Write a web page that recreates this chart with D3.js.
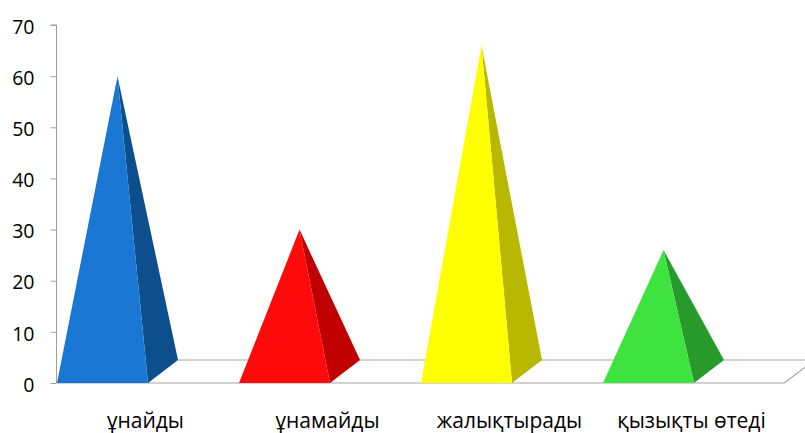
<!DOCTYPE html>
<html><head><meta charset="utf-8">
<script src="https://cdn.jsdelivr.net/npm/d3@7"></script>
<style>html,body{margin:0;padding:0;background:#fff;overflow:hidden}</style>
</head><body>
<svg id="c" width="805" height="433"></svg>
<script>
const categories = ["ұнайды", "ұнамайды", "жалықтырады", "қызықты өтеді"];
const values = [60, 30, 66, 26];
const frontColors = ["#1976D3", "#FF0A0A", "#FFFF00", "#3FE33F"];
const sideColors = ["#0D4F8C", "#C00000", "#B8B800", "#279A2B"];
const yTicks = [0, 10, 20, 30, 40, 50, 60, 70];

(function () {
const svg = d3.select("#c");
const mLeft = 56.5, mRight = 784.5, mTop = 25, mBottom = 383;
const depthX = 30, depthY = -23;

const x = d3.scaleBand().domain(categories).range([mLeft, mRight]).padding(0);
const y = d3.scaleLinear().domain([0, 70]).range([mBottom, mTop]);

// floor
const floor = svg.append("g").attr("stroke", "#A6A6A6").attr("stroke-width", 1.2).attr("fill", "none");
floor.append("path").attr("d", d3.line()([[mLeft, y(0)], [mRight, y(0)], [mRight + depthX, y(0) + depthY]]));
floor.append("path").attr("d", d3.line()([[mLeft + depthX, y(0) + depthY], [mRight + depthX + 20, y(0) + depthY]]));

// pyramids
const bw = x.bandwidth();
const g = svg.append("g");
categories.forEach((c, i) => {
  const L = x(c) + 0.5;
  const W = bw / 2;
  const R = L + W;
  const ax = L + W / 2 + depthX / 2;
  const ay = y(values[i]);
  g.append("path")
    .attr("d", d3.line()([[R, y(0)], [R + depthX, y(0) + depthY], [ax, ay]]) + "Z")
    .attr("fill", sideColors[i]);
  g.append("path")
    .attr("d", d3.line()([[L, y(0)], [R, y(0)], [ax, ay]]) + "Z")
    .attr("fill", frontColors[i]);
});

// y axis
const yAxis = svg.append("g").attr("transform", `translate(${mLeft},0)`)
  .call(d3.axisLeft(y).tickValues(yTicks).tickSize(6).tickPadding(16).tickFormat(d3.format("d")));
yAxis.selectAll("path.domain").attr("stroke", "#A0A0A0").attr("d", `M-6,${mTop}H0V${mBottom}`);
yAxis.selectAll(".tick line").attr("stroke", "#A0A0A0");
yAxis.selectAll(".tick text")
  .attr("font-family", "'Open Sans', sans-serif").attr("font-size", 19.5).attr("fill", "#000")
  .attr("dy", "0.42em");

// x labels
svg.append("g").selectAll("text").data(categories).join("text")
  .attr("x", d => x(d) + bw / 2 - 2)
  .attr("y", 428)
  .attr("text-anchor", "middle")
  .attr("font-family", "'Open Sans', sans-serif").attr("font-size", 21)
  .attr("fill", "#000")
  .text(d => d);
})();
</script>
</body></html>
